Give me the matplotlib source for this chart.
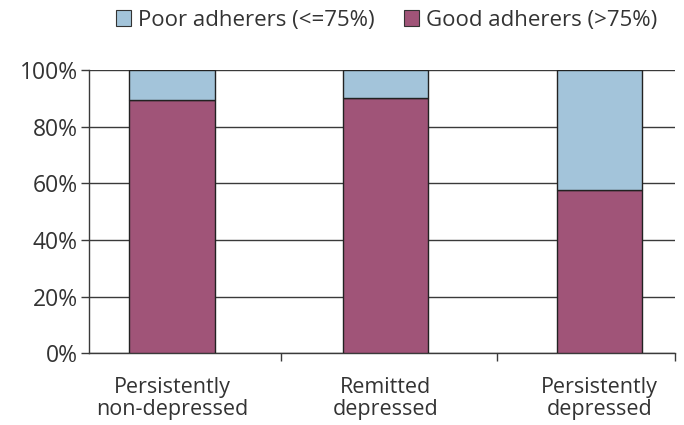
import numpy as np
import matplotlib
matplotlib.use("Agg")
import matplotlib.pyplot as plt
from matplotlib.patches import Patch

# --------------------------------------------------
# Data
# --------------------------------------------------
categories = ["Persistently\nnon-depressed", "Remitted\ndepressed", "Persistently\ndepressed"]
good_adherers = [89.4, 90.0, 57.5]
poor_adherers = [100 - g for g in good_adherers]
y_ticks = [0, 20, 40, 60, 80, 100]

good_color = "#A05478"
poor_color = "#A3C4DA"
text_color = "#333333"
line_color = "#3a3a3a"

plt.rcParams["font.family"] = ["Open Sans", "DejaVu Sans"]

fig = plt.figure(figsize=(6.84, 4.25), dpi=100)
ax = fig.add_axes([0.130, 0.169, 0.857, 0.666])

x = np.arange(len(categories))
width = 0.40

ax.bar(x, good_adherers, width, color=good_color, edgecolor="#222222", linewidth=1.0, zorder=3)
ax.bar(x, poor_adherers, width, bottom=good_adherers, color=poor_color,
       edgecolor="#222222", linewidth=1.0, zorder=3)

# Horizontal gridlines
ax.set_ylim(0, 100)
ax.set_yticks(y_ticks)
ax.set_yticklabels([f"{v}%" for v in y_ticks])
ax.yaxis.grid(True, color=line_color, linewidth=1.0, zorder=0)
ax.set_axisbelow(True)

x_left, x_right = -0.39, 2.355
ax.set_xlim(x_left, x_right)
ax.set_xticks(x)
ax.set_xticklabels(categories)
ax.tick_params(axis="x", which="major", length=0, pad=17, labelsize=15.5, labelcolor=text_color)
ax.set_xticks([0.51, 1.52, x_right], minor=True)
ax.tick_params(axis="x", which="minor", length=6, width=1.0, color=line_color)
ax.tick_params(axis="y", length=6, width=1.0, color=line_color, labelsize=16.5,
               labelcolor=text_color, pad=2)
for lbl in ax.get_xticklabels():
    lbl.set_linespacing(1.1)

for side in ["top", "right"]:
    ax.spines[side].set_visible(False)
for side in ["left", "bottom"]:
    ax.spines[side].set_color(line_color)
    ax.spines[side].set_linewidth(1.0)

# --------------------------------------------------
# Legend
# --------------------------------------------------
handles = [
    Patch(facecolor=poor_color, edgecolor="#333333", linewidth=0.8, label="Poor adherers (<=75%)"),
    Patch(facecolor=good_color, edgecolor="#333333", linewidth=0.8, label="Good adherers (>75%)"),
]
leg = fig.legend(handles=handles, loc="center", bbox_to_anchor=(0.565, 0.952), ncol=2,
                 frameon=False, fontsize=16, handlelength=0.7, handleheight=0.7,
                 handletextpad=0.3, columnspacing=1.3)
for t in leg.get_texts():
    t.set_color(text_color)

fig.savefig("out.png", dpi=100)
